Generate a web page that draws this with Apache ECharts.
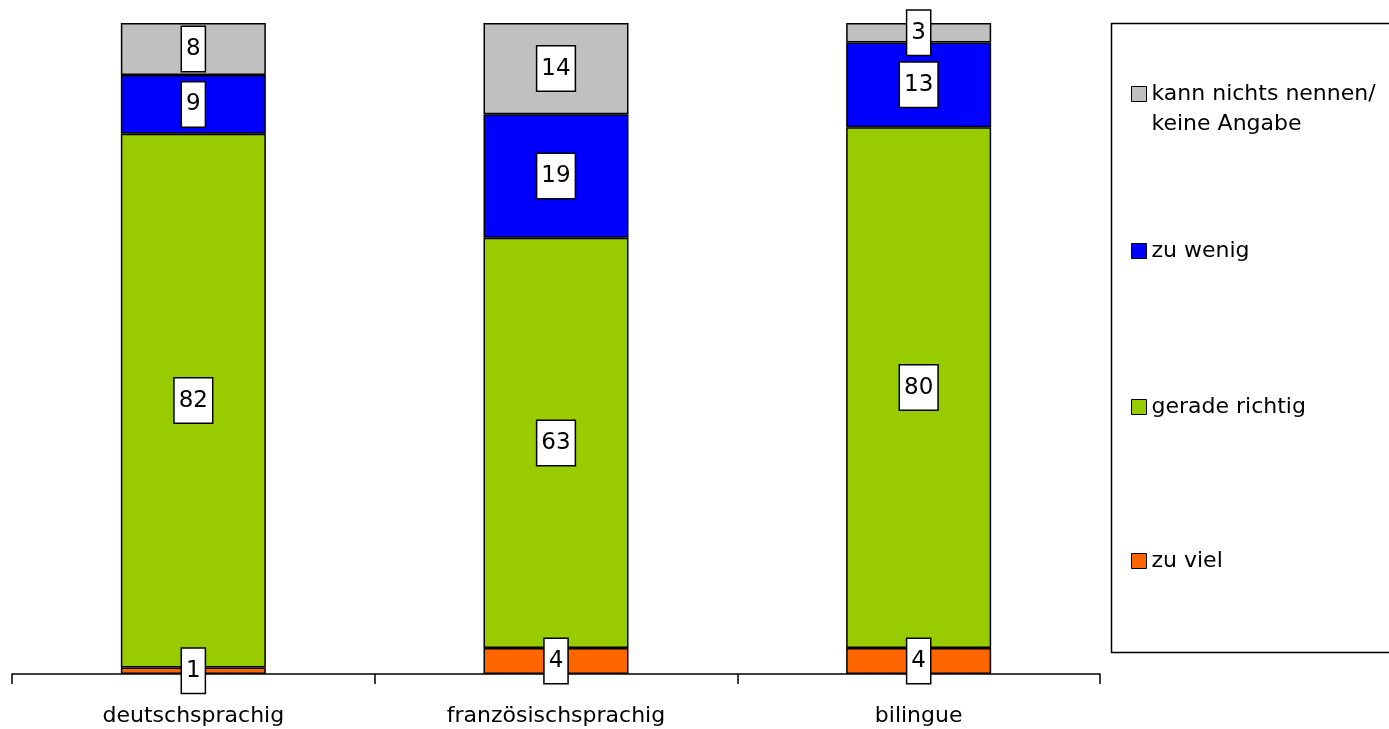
<!DOCTYPE html>
<html><head><meta charset="utf-8">
<script src="https://cdn.jsdelivr.net/npm/echarts@6/dist/echarts.min.js"></script>
<style>html,body{margin:0;padding:0;background:#fff}#c{width:1389px;height:729px}</style>
</head><body><div id="c"></div>
<script>
var categories = ['deutschsprachig', 'französischsprachig', 'bilingue'];
var zuViel = [1, 4, 4];
var geradeRichtig = [82, 63, 80];
var zuWenig = [9, 19, 13];
var keineAngabe = [8, 14, 3];
var seriesNames = ['zu viel', 'gerade richtig', 'zu wenig', 'kann nichts nennen/\nkeine Angabe'];
var seriesColors = ['#FF6600', '#99CC00', '#0000FF', '#C0C0C0'];
var seriesData = [zuViel, geradeRichtig, zuWenig, keineAngabe];

var FONT = 'DejaVu Sans';
var chart = echarts.init(document.getElementById('c'));
var series = seriesData.map(function (d, i) {
  return {
    name: seriesNames[i], type: 'bar', stack: 'a', data: d, barWidth: 145,
    itemStyle: { color: seriesColors[i], borderColor: '#000', borderWidth: 1.5 },
    label: {
      show: true, position: 'inside', color: '#000', fontFamily: FONT, fontSize: 23,
      backgroundColor: '#fff', borderColor: '#000', borderWidth: 1.5, padding: [11, 4, 10, 4]
    }
  };
});
var legendTops = [44, 231, 387, 541];
var legendOrder = [3, 2, 1, 0];
var legends = legendOrder.map(function (si, k) {
  return {
    data: [{ name: seriesNames[si], icon: 'rect' }], left: 1126, top: legendTops[k], orient: 'vertical',
    itemWidth: 15, itemHeight: 15, itemGap: 6,
    itemStyle: { borderColor: '#000', borderWidth: 1 },
    formatter: function (n) { return n.indexOf('\n') >= 0 ? ' \n' + n : n; },
    textStyle: { fontFamily: FONT, fontSize: 22, color: '#000', lineHeight: 30 },
    selectedMode: false
  };
});
chart.setOption({
  animation: false,
  grid: { left: 12, right: 289, top: 23, bottom: 55 },
  xAxis: {
    type: 'category', data: categories,
    axisLine: { lineStyle: { color: '#000', width: 1.5 } },
    axisTick: { show: true, length: 10, lineStyle: { color: '#000', width: 1.5 } },
    axisLabel: { color: '#000', fontFamily: FONT, fontSize: 22, margin: 31 }
  },
  yAxis: { type: 'value', min: 0, max: 100, show: false },
  legend: legends,
  graphic: [{
    type: 'rect', left: 1109, top: 21,
    shape: { width: 290, height: 629 },
    style: { fill: 'none', stroke: '#000', lineWidth: 1.5 }, z: 0
  }],
  series: series
});
</script></body></html>
